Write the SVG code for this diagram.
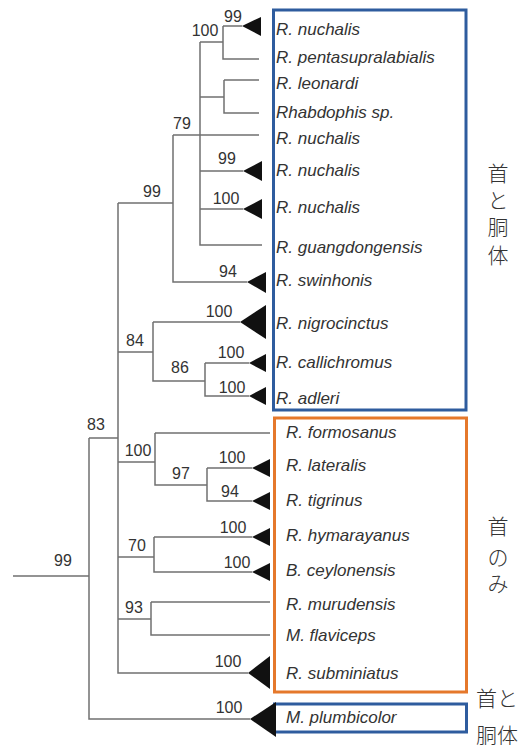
<svg xmlns="http://www.w3.org/2000/svg" width="525" height="745" viewBox="0 0 525 745">
  <style>
    .br { fill: none; stroke: #707070; stroke-width: 1.5; }
    .tri { fill: #111; }
    .taxon { font-family: "Liberation Sans", Arial, sans-serif; font-style: italic; font-size: 17px; fill: #333; }
    .bs { font-family: "Liberation Sans", Arial, sans-serif; font-size: 16px; fill: #333; text-anchor: middle; }
    .jp { font-family: "Noto Sans CJK JP", sans-serif; font-size: 21px; font-weight: 300; fill: #333; text-anchor: middle; }
    .boxB { fill: none; stroke: #2E5C9E; stroke-width: 3; }
    .boxO { fill: none; stroke: #E5782B; stroke-width: 3; }
  </style>
  <rect width="525" height="745" fill="#fff"/>

  <!-- group boxes -->
  <g id="boxes">
    <rect class="boxB" x="273.5" y="10" width="192.5" height="400"/>
    <rect class="boxO" x="274.5" y="418" width="192" height="274"/>
    <rect class="boxB" x="274.5" y="704" width="192" height="28"/>
  </g>

  <!-- branches -->
  <g id="connectors" class="br">
    <path d="M13,576 H89 M89,438 V719 H250"/>
    <path d="M89,438 H118 M118,203 V673 H248"/>
    <path d="M118,203 H173 M173,135 V282 H247"/>
    <path d="M173,135 H259 M200,42 V245 H262 M200,171 H243 M200,209 H243"/>
    <path d="M200,42 H223 M223,26 V59 H259 M223,26 H242"/>
    <path d="M200,97 H224 M224,80 V113 H259 M224,80 H259"/>
    <path d="M118,352 H153 M153,322 V381 H205 M153,322 H240"/>
    <path d="M205,363 V396 H249 M205,363 H249"/>
    <path d="M118,462 H155 M155,433 V485 H207 M155,433 H270"/>
    <path d="M207,468 V501 H252 M207,468 H252"/>
    <path d="M118,557 H154 M154,537 V572 H252 M154,537 H252"/>
    <path d="M118,619 H151 M151,602 V635 H270 M151,602 H270"/>
  </g>

  <!-- tips -->
  <g id="t01"><polygon class="tri" points="242,26 261,17 261,36"/><text class="taxon" x="276" y="35">R. nuchalis</text></g>
  <g id="t02"><text class="taxon" x="276" y="63">R. pentasupralabialis</text></g>
  <g id="t03"><text class="taxon" x="276" y="89">R. leonardi</text></g>
  <g id="t04"><text class="taxon" x="276" y="118">Rhabdophis sp.</text></g>
  <g id="t05"><text class="taxon" x="276" y="144">R. nuchalis</text></g>
  <g id="t06"><polygon class="tri" points="243,171 262,161 262,181"/><text class="taxon" x="276" y="176">R. nuchalis</text></g>
  <g id="t07"><polygon class="tri" points="243,209 262,199 262,219"/><text class="taxon" x="276" y="213">R. nuchalis</text></g>
  <g id="t08"><text class="taxon" x="276" y="253">R. guangdongensis</text></g>
  <g id="t09"><polygon class="tri" points="247,282 266,272 266,293"/><text class="taxon" x="276" y="286">R. swinhonis</text></g>
  <g id="t10"><polygon class="tri" points="240,322 266,305 266,339"/><text class="taxon" x="276" y="329">R. nigrocinctus</text></g>
  <g id="t11"><polygon class="tri" points="249,363 266,354 266,372"/><text class="taxon" x="276" y="368">R. callichromus</text></g>
  <g id="t12"><polygon class="tri" points="249,396 266,387 266,405"/><text class="taxon" x="276" y="404">R. adleri</text></g>
  <g id="t13"><text class="taxon" x="286" y="438">R. formosanus</text></g>
  <g id="t14"><polygon class="tri" points="252,468 270,459 270,477"/><text class="taxon" x="286" y="471">R. lateralis</text></g>
  <g id="t15"><polygon class="tri" points="252,501 270,492 270,510"/><text class="taxon" x="286" y="506">R. tigrinus</text></g>
  <g id="t16"><polygon class="tri" points="252,537 270,528 270,546"/><text class="taxon" x="286" y="541">R. hymarayanus</text></g>
  <g id="t17"><polygon class="tri" points="252,572 270,563 270,581"/><text class="taxon" x="286" y="576">B. ceylonensis</text></g>
  <g id="t18"><text class="taxon" x="286" y="610">R. murudensis</text></g>
  <g id="t19"><text class="taxon" x="286" y="641">M. flaviceps</text></g>
  <g id="t20"><polygon class="tri" points="248,673 270,656 270,689"/><text class="taxon" x="286" y="679">R. subminiatus</text></g>
  <g id="t21"><polygon class="tri" points="250,719 276,702 276,737"/><text class="taxon" x="286" y="723">M. plumbicolor</text></g>

  <!-- bootstrap support values -->
  <g id="support">
    <text class="bs" x="233" y="22">99</text>
    <text class="bs" x="205" y="36">100</text>
    <text class="bs" x="182" y="129">79</text>
    <text class="bs" x="227" y="164">99</text>
    <text class="bs" x="226" y="204">100</text>
    <text class="bs" x="152" y="197">99</text>
    <text class="bs" x="228" y="277">94</text>
    <text class="bs" x="219" y="317">100</text>
    <text class="bs" x="135" y="346">84</text>
    <text class="bs" x="180" y="373">86</text>
    <text class="bs" x="231" y="358">100</text>
    <text class="bs" x="232" y="393">100</text>
    <text class="bs" x="96" y="430">83</text>
    <text class="bs" x="138" y="456">100</text>
    <text class="bs" x="181" y="479">97</text>
    <text class="bs" x="232" y="463">100</text>
    <text class="bs" x="230" y="497">94</text>
    <text class="bs" x="137" y="551">70</text>
    <text class="bs" x="233" y="533">100</text>
    <text class="bs" x="237" y="568">100</text>
    <text class="bs" x="63" y="566">99</text>
    <text class="bs" x="134" y="613">93</text>
    <text class="bs" x="228" y="667">100</text>
    <text class="bs" x="229" y="713">100</text>
  </g>

  <!-- side annotations -->
  <g id="label-neck-body">
    <text class="jp" x="498" y="181">首</text>
    <text class="jp" x="498" y="208">と</text>
    <text class="jp" x="498" y="235">胴</text>
    <text class="jp" x="498" y="263">体</text>
  </g>
  <g id="label-neck-only">
    <text class="jp" x="498" y="534">首</text>
    <text class="jp" x="498" y="565">の</text>
    <text class="jp" x="498" y="591">み</text>
  </g>
  <g id="label-neck-body-2">
    <text class="jp" x="497" y="706">首と</text>
    <text class="jp" x="497" y="743">胴体</text>
  </g>
</svg>
